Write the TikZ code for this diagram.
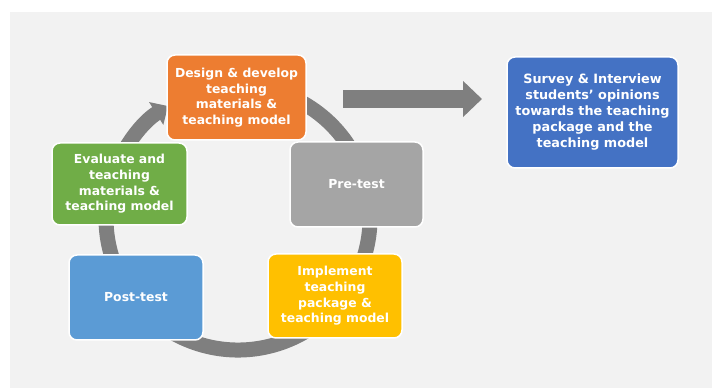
\documentclass[tikz,border=0pt]{standalone}
\usepackage{fontspec}
\setmainfont{DejaVu Sans}
\usetikzlibrary{arrows.meta}
\definecolor{bgGray}{HTML}{F2F2F2}
\definecolor{ringGray}{HTML}{7F7F7F}
\definecolor{designOrange}{HTML}{ED7D31}
\definecolor{preGray}{HTML}{A5A5A5}
\definecolor{implementGold}{HTML}{FFC000}
\definecolor{postBlue}{HTML}{5B9BD5}
\definecolor{evaluateGreen}{HTML}{70AD47}
\definecolor{surveyBlue}{HTML}{4472C4}
\newcommand{\boxFont}[0]{\bfseries\fontsize{12.4}{15.6}\selectfont}
\newcommand{\surveyFont}[0]{\bfseries\fontsize{12.8}{16}\selectfont}
\newcommand{\ringRadius}[0]{132}
\newcommand{\ringWidth}[0]{15pt}

\begin{document}
\begin{tikzpicture}[x=1pt, y=1pt]
  \tikzset{cycle box/.style={draw=white, line width=1.5pt, rounded corners=8pt,
      text=white, font=\boxFont, align=center, inner sep=2pt}}
  \useasboundingbox (0,0) rectangle (712,388);
  \fill[bgGray] (10,0) rectangle (712,376);
  \coordinate (ring-center) at (238,170);
  \draw[ringGray, line width=\ringWidth, -{Triangle[width=26pt,length=14pt]}]
    (ring-center) ++(70:\ringRadius) arc[start angle=70, end angle=-238, radius=\ringRadius];
  \node[cycle box, fill=designOrange, minimum width=139pt, minimum height=85pt]
    (design-1) at (236.5,290.5) {Design \& develop\\teaching\\materials \&\\teaching model};
  \node[cycle box, fill=preGray, minimum width=133pt, minimum height=85pt]
    (pre-test) at (356.5,203.5) {Pre-test};
  \node[cycle box, fill=implementGold, minimum width=134pt, minimum height=84pt]
    (implement-1) at (335,92) {Implement\\teaching\\package \&\\teaching model};
  \node[cycle box, fill=postBlue, minimum width=134pt, minimum height=85pt]
    (post-test) at (136,90.5) {Post-test};
  \node[cycle box, fill=evaluateGreen, minimum width=135pt, minimum height=82pt]
    (evaluate-1) at (119.5,204) {Evaluate and\\teaching\\materials \&\\teaching model};
  \node[cycle box, fill=surveyBlue, font=\surveyFont, minimum width=171pt, minimum height=111pt]
    (survey-1) at (592.5,275.5) {Survey \& Interview\\students' opinions\\towards the teaching\\package and the\\teaching model};
  \coordinate (flow-tail) at (343,289);
  \coordinate (flow-tip) at (482,289);
  \draw[ringGray, line width=18pt, -{Triangle[width=35pt,length=19pt]}] (flow-tail) -- (flow-tip);
\end{tikzpicture}
\end{document}
